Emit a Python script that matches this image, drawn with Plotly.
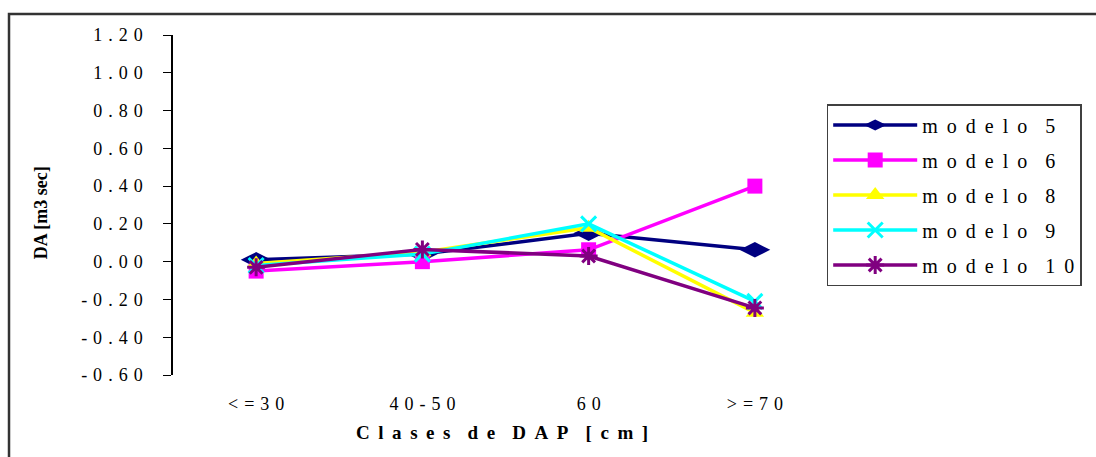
import plotly.graph_objects as go

# Diameter classes (DAP) and deviation values per model
categorias = ["<=30", "40-50", "60", ">=70"]
modelo_5 = [0.01, 0.04, 0.15, 0.063]
modelo_6 = [-0.05, 0.0, 0.063, 0.40]
modelo_8 = [-0.01, 0.05, 0.18, -0.27]
modelo_9 = [-0.02, 0.04, 0.20, -0.21]
modelo_10 = [-0.03, 0.065, 0.03, -0.245]

y_ticks = [-0.6, -0.4, -0.2, 0.0, 0.2, 0.4, 0.6, 0.8, 1.0, 1.2]

SERIF = "Liberation Serif, Times New Roman, serif"
SP_NARROW = "\u00a0\u200a"  # character spacing for tick labels
SP_WIDE = "\u00a0\u2009"    # character spacing for legend and axis title


def spaced(text, sep=SP_NARROW):
    out = []
    for ch in text:
        out.append(sep + sep if ch == " " else ch)
    return sep.join(out).replace(sep * 4, sep * 2)


def fmt_tick(v):
    return spaced(f"{v:.2f}")


series = [
    ("modelo 5", modelo_5, "#000080", dict(symbol="diamond-wide", size=22)),
    ("modelo 6", modelo_6, "#FF00FF", dict(symbol="square", size=15)),
    ("modelo 8", modelo_8, "#FFFF00", dict(symbol="triangle-up", size=16)),
    ("modelo 9", modelo_9, "#00FFFF", dict(symbol="x-thin-open", size=15, line=dict(width=3))),
    ("modelo 10", modelo_10, "#800080", dict(symbol="asterisk-open", size=15, line=dict(width=3))),
]

x_pos = list(range(len(categorias)))

fig = go.Figure()
for i, (name, vals, color, mk) in enumerate(series):
    marker = dict(color=color, **mk)
    if "line" in marker:
        marker["line"] = dict(color=color, width=mk["line"]["width"])
    fig.add_trace(go.Scatter(
        x=x_pos, y=vals, name=spaced(name, SP_WIDE), mode="lines+markers",
        line=dict(color=color, width=3.5), marker=marker,
        legendgroup=f"g{i}", xaxis="x", yaxis="y",
    ))

fig.update_layout(
    width=1096, height=457,
    margin=dict(l=173, r=258, t=35, b=82),
    paper_bgcolor="white", plot_bgcolor="white",
    font=dict(family=SERIF, color="black", size=18),
    xaxis=dict(
        range=[-0.5, 3.5], tickmode="array", tickvals=x_pos,
        ticktext=[spaced(c) for c in categorias],
        showline=False, showgrid=False, zeroline=False, ticks="",
        ticklabelstandoff=16, tickfont=dict(size=18),
    ),
    xaxis2=dict(
        overlaying="x", anchor="free", position=1 / 3, side="bottom",
        range=[-0.5, 3.5], tickmode="array", tickvals=[0.5, 1.5, 2.5],
        showticklabels=False, showline=True, linecolor="#808080", linewidth=2,
        ticks="outside", ticklen=4, tickcolor="#404040", tickwidth=1,
        showgrid=False, zeroline=False,
    ),
    yaxis=dict(
        range=[-0.6, 1.2], tickmode="array", tickvals=y_ticks,
        ticktext=[fmt_tick(v) for v in y_ticks],
        showline=True, linecolor="black", linewidth=1.5,
        ticks="outside", ticklen=8, tickcolor="black",
        showgrid=False, zeroline=False, ticklabelstandoff=17,
        tickfont=dict(size=18),
    ),
    legend=dict(
        x=0.983, y=0.797, xanchor="left", yanchor="top",
        bordercolor="#404040", borderwidth=1.5, bgcolor="white",
        font=dict(size=20, family=SERIF), tracegroupgap=6,
        itemwidth=84,
    ),
    showlegend=True,
)

# Axis titles
fig.add_annotation(
    text="<b>DA [m3 sec]</b>", xref="paper", yref="paper",
    x=-0.1985, y=0.479, xanchor="center", yanchor="middle",
    textangle=-90, showarrow=False,
    font=dict(size=18, family=SERIF),
)
fig.add_annotation(
    text="<b>" + spaced("Clases de DAP [cm]", SP_WIDE) + "</b>", xref="paper", yref="paper",
    x=0.4947, y=-0.17, xanchor="center", yanchor="middle", showarrow=False,
    font=dict(size=19, family=SERIF),
)

# Chart area border
fig.add_shape(
    type="rect", xref="paper", yref="paper",
    x0=-0.2466, x1=1.6, y0=-0.5, y1=1.0618,
    line=dict(color="#333333", width=2.5), fillcolor="rgba(0,0,0,0)", layer="below",
)

fig.write_html("out.html")
